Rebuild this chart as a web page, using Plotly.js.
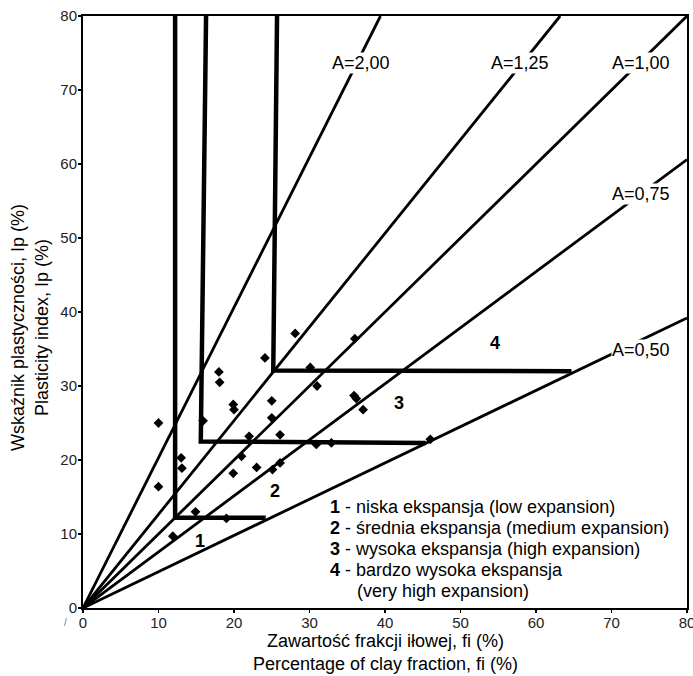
<!DOCTYPE html>
<html>
<head>
<meta charset="utf-8">
<script src="https://cdn.plot.ly/plotly-3.0.1.min.js"></script>
<style>html,body{margin:0;padding:0;background:#fff;}</style>
</head>
<body>
<div id="chart" style="width:693px;height:676px;"></div>
<script>
// Activity lines A = Ip / fi, drawn from the origin to the frame
const activityLabels = ["A=2,00", "A=1,25", "A=1,00", "A=0,75", "A=0,50"];
const activityEndX = [39.4, 63.2, 80, 80, 80];
const activityEndY = [80, 80, 80, 60.6, 39.2];
// label anchor positions (data units)
const labelX = [36.8, 57.9, 73.9, 73.9, 73.9];
const labelY = [73.7, 73.7, 73.7, 55.9, 34.9];

// Expansion zone boundaries
const zone1X = [12.2, 12.2, 24.2];
const zone1Y = [80, 12.2, 12.2];
const zone2X = [16.3, 15.6, 45.4];
const zone2Y = [80, 22.5, 22.3];
const zone3X = [25.7, 25.2, 64.7];
const zone3Y = [80, 32.1, 32.0];

// Zone numbers
const zoneNames = ["1", "2", "3", "4"];
const zoneX = [15.5, 25.4, 41.9, 54.6];
const zoneY = [9.0, 15.8, 27.7, 35.8];

// Samples: clay fraction fi (%) and plasticity index Ip (%)
const sampleFi = [10.0, 10.0, 13.0, 13.1, 11.9, 14.9, 19.0, 15.9, 18.0, 18.1,
                  19.9, 20.0, 19.9, 21.0, 22.0, 23.0, 25.1, 26.1, 26.1, 25.0,
                  25.0, 24.1, 28.1, 30.1, 31.0, 30.9, 32.9, 36.0, 35.9, 36.2,
                  37.1, 46.0];
const sampleIp = [25.0, 16.4, 20.3, 18.9, 9.7, 13.0, 12.1, 25.3, 31.9, 30.5,
                  27.5, 26.8, 18.2, 20.5, 23.2, 19.0, 18.7, 19.6, 23.4, 25.7,
                  28.0, 33.8, 37.1, 32.5, 30.0, 22.1, 22.3, 36.4, 28.7, 28.3,
                  26.8, 22.8];

// Legend text
const legendNums = ["1", "2", "3", "4", ""];
const legendTexts = [" - niska ekspansja (low expansion)",
                     " - średnia ekspansja (medium expansion)",
                     " - wysoka ekspansja (high expansion)",
                     " - bardzo wysoka ekspansja",
                     "(very high expansion)"];

// Axis titles
const xTitleLines = ["Zawartość frakcji iłowej, fi (%)", "Percentage of clay fraction, fi (%)"];
const yTitleLines = ["Wskaźnik plastyczności, Ip (%)", "Plasticity index, Ip (%)"];

const FONT = "Arial, 'Liberation Sans', sans-serif";
const traces = [];

activityLabels.forEach((lab, i) => {
  traces.push({
    type: "scatter", mode: "lines",
    x: [0, activityEndX[i]], y: [0, activityEndY[i]],
    line: {color: "#000", width: 2.8},
    hoverinfo: "skip", showlegend: false
  });
});

[[zone1X, zone1Y], [zone2X, zone2Y], [zone3X, zone3Y]].forEach(z => {
  traces.push({
    type: "scatter", mode: "lines",
    x: z[0], y: z[1],
    line: {color: "#000", width: 4.5},
    hoverinfo: "skip", showlegend: false
  });
});

traces.push({
  type: "scatter", mode: "markers",
  x: sampleFi, y: sampleIp,
  marker: {symbol: "diamond", size: 7.5, color: "#000"},
  showlegend: false
});

// pixel -> paper helpers (plot area: x 83..687, y 16..608)
const px2x = p => (p - 83) / 604;
const py2y = p => 1 - (p - 16) / 592;

const annotations = [];
activityLabels.forEach((lab, i) => {
  annotations.push({
    x: labelX[i], y: labelY[i], xref: "x", yref: "y",
    text: lab, showarrow: false,
    font: {family: FONT, size: 18, color: "#000"},
    bgcolor: "#fff", borderpad: 0,
    xanchor: "center", yanchor: "middle"
  });
});
zoneNames.forEach((n, i) => {
  annotations.push({
    x: zoneX[i], y: zoneY[i], xref: "x", yref: "y",
    text: "<b>" + n + "</b>", showarrow: false,
    font: {family: FONT, size: 18, color: "#000"},
    xanchor: "center", yanchor: "middle"
  });
});
const legendRowY = [507, 528, 549, 570, 591];
legendTexts.forEach((t, i) => {
  const px = i === 4 ? 355 : 328;
  annotations.push({
    x: px2x(px), y: py2y(legendRowY[i]),
    xref: "paper", yref: "paper",
    text: (legendNums[i] ? "<b>" + legendNums[i] + "</b>" : "") + t,
    showarrow: false,
    font: {family: FONT, size: 18, color: "#000"},
    xanchor: "left", yanchor: "middle", align: "left"
  });
});
// x axis title (two lines)
[641, 664].forEach((py, i) => {
  annotations.push({
    x: 0.5, y: py2y(py), xref: "paper", yref: "paper",
    text: xTitleLines[i], showarrow: false,
    font: {family: FONT, size: 18, color: "#000"},
    xanchor: "center", yanchor: "middle"
  });
});
// y axis title (two lines, rotated)
[18, 42].forEach((px, i) => {
  annotations.push({
    x: px2x(px), y: py2y(328), xref: "paper", yref: "paper",
    text: yTitleLines[i], showarrow: false, textangle: -90,
    font: {family: FONT, size: 18, color: "#000"},
    xanchor: "center", yanchor: "middle"
  });
});
// small stray mark near the origin
annotations.push({
  x: px2x(65), y: py2y(622), xref: "paper", yref: "paper",
  text: "/", showarrow: false,
  font: {family: FONT, size: 10, color: "#777"},
  xanchor: "center", yanchor: "middle"
});

const layout = {
  width: 693, height: 676,
  margin: {l: 83, r: 6, t: 16, b: 68, pad: 0},
  paper_bgcolor: "#fff", plot_bgcolor: "#fff",
  showlegend: false,
  font: {family: FONT, color: "#000"},
  xaxis: {
    range: [0, 80], dtick: 10, tick0: 0,
    showgrid: false, zeroline: false,
    showline: true, linecolor: "#000", linewidth: 2, mirror: true,
    ticks: "outside", ticklen: 3, tickwidth: 1.5, tickcolor: "#000",
    ticklabeloverflow: "allow", ticklabelstandoff: -3,
    tickfont: {family: FONT, size: 15, color: "#222"}
  },
  yaxis: {
    range: [0, 80], dtick: 10, tick0: 0,
    showgrid: false, zeroline: false,
    showline: true, linecolor: "#000", linewidth: 2, mirror: true,
    ticks: "outside", ticklen: 3, tickwidth: 1.5, tickcolor: "#000",
    ticklabeloverflow: "allow", ticklabelstandoff: -2,
    tickfont: {family: FONT, size: 15, color: "#222"}
  },
  annotations: annotations
};

Plotly.newPlot("chart", traces, layout, {displayModeBar: false, staticPlot: true});
</script>
</body>
</html>
